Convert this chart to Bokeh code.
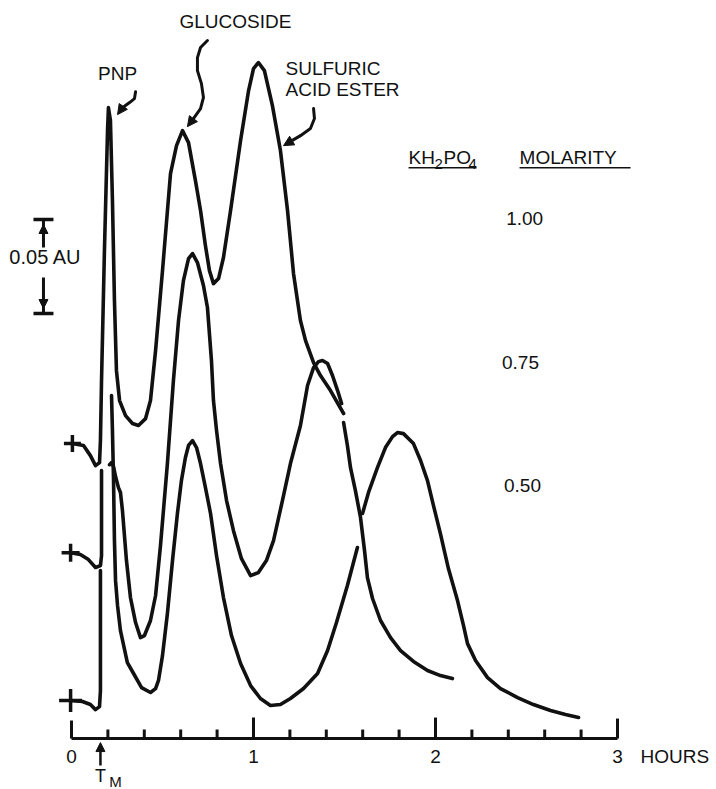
from bokeh.plotting import figure
from bokeh.models import Range1d, Arrow, NormalHead
from bokeh.core.properties import value
from bokeh.embed import file_html
from bokeh.resources import INLINE

FONT = "Liberation Sans"

# ---------------- data (x = hours, y = absorbance units above the time axis) -------------
molarity_labels = ["1.00", "0.75", "0.50"]
molarity_label_x = [2.49, 2.467, 2.478]
molarity_label_y = [0.2766, 0.2000, 0.1346]

tick_values = [0, 1, 2, 3]
tick_labels = ["0", "1", "2", "3"]
minor_ticks = [0.2, 0.4, 0.6, 0.8, 1.2, 1.4, 1.6, 1.8, 2.2, 2.4, 2.6, 2.8]
injection_time = 0.159  # T_M
scale_bar_au = 0.05
scale_bar_bottom = 0.2261
scale_bar_x = -0.154

# trace start marks (+)
start_x = [0.005, -0.005, -0.005]
start_y = [0.1569, 0.0989, 0.0202]

# 1.00 M trace
top_h = [0.005, 0.066, 0.104, 0.132, 0.154, 0.159, 0.165, 0.181, 0.198, 0.203, 0.214, 0.225,
         0.236, 0.247, 0.264, 0.297, 0.335, 0.368, 0.407, 0.434, 0.462, 0.500, 0.544, 0.577,
         0.610, 0.643, 0.681, 0.709, 0.736, 0.758, 0.780, 0.808, 0.835, 0.874, 0.929, 0.973,
         1.000, 1.027, 1.060, 1.104, 1.148, 1.187, 1.220, 1.258, 1.286, 1.330, 1.368, 1.423, 1.495]
top_au = [0.1569, 0.1559, 0.1505, 0.1452, 0.1468, 0.1585, 0.1904, 0.2596, 0.3234, 0.3356, 0.3287, 0.2862,
          0.2330, 0.1957, 0.1798, 0.1718, 0.1676, 0.1665, 0.1702, 0.1798, 0.2064, 0.2489, 0.3005, 0.3154,
          0.3234, 0.3170, 0.2968, 0.2809, 0.2622, 0.2489, 0.2420, 0.2447, 0.2559, 0.2809, 0.3181, 0.3447,
          0.3564, 0.3596, 0.3553, 0.3367, 0.3128, 0.2809, 0.2473, 0.2223, 0.2117, 0.2000, 0.1931, 0.1851, 0.1729]

# 0.75 M trace (three pen strokes)
mid1_h = [-0.005, 0.049, 0.093, 0.132, 0.159, 0.165, 0.165]
mid1_au = [0.0989, 0.0979, 0.0952, 0.0910, 0.0920, 0.0973, 0.1426]
mid2_h = [0.209, 0.220, 0.231, 0.242, 0.258, 0.269, 0.280, 0.302, 0.324, 0.352, 0.379, 0.401, 0.434,
          0.462, 0.489, 0.527, 0.560, 0.588, 0.615, 0.643, 0.665, 0.692, 0.725, 0.747, 0.769, 0.780,
          0.797, 0.819, 0.852, 0.890, 0.934, 0.984, 1.027, 1.071, 1.110, 1.159, 1.203, 1.258, 1.297,
          1.330, 1.357, 1.379, 1.407, 1.434, 1.462, 1.484]
mid2_au = [0.1457, 0.1468, 0.1447, 0.1394, 0.1335, 0.1309, 0.1213, 0.0947, 0.0750, 0.0617, 0.0537, 0.0548, 0.0628,
           0.0761, 0.1027, 0.1463, 0.1904, 0.2223, 0.2436, 0.2553, 0.2580, 0.2532, 0.2410, 0.2293, 0.2011, 0.1798,
           0.1638, 0.1463, 0.1266, 0.1106, 0.0957, 0.0867, 0.0883, 0.0947, 0.1053, 0.1266, 0.1463, 0.1665, 0.1878,
           0.1973, 0.2005, 0.2011, 0.1995, 0.1931, 0.1851, 0.1782]
mid3_h = [1.495, 1.516, 1.533, 1.560, 1.588, 1.610, 1.626, 1.654, 1.698, 1.753, 1.808, 1.879, 1.956, 2.027, 2.093]
mid3_au = [0.1681, 0.1559, 0.1441, 0.1319, 0.1176, 0.1000, 0.0856, 0.0745, 0.0628, 0.0537, 0.0468, 0.0410,
           0.0362, 0.0335, 0.0319]

# 0.50 M trace (three pen strokes)
low1_h = [-0.005, 0.060, 0.104, 0.132, 0.154, 0.159, 0.159]
low1_au = [0.0202, 0.0197, 0.0181, 0.0154, 0.0170, 0.0255, 0.0894]
low2_h = [0.220, 0.225, 0.231, 0.236, 0.242, 0.253, 0.269, 0.307, 0.341, 0.385, 0.434, 0.462, 0.478, 0.500,
          0.527, 0.555, 0.582, 0.604, 0.626, 0.643, 0.665, 0.687, 0.709, 0.736, 0.764, 0.797, 0.835, 0.879,
          0.929, 0.984, 1.038, 1.093, 1.148, 1.203, 1.275, 1.352, 1.407, 1.456, 1.516, 1.571]
low2_au = [0.1824, 0.1638, 0.1372, 0.1053, 0.0840, 0.0707, 0.0574, 0.0404, 0.0346, 0.0271, 0.0245, 0.0266, 0.0309, 0.0441,
           0.0665, 0.0947, 0.1197, 0.1372, 0.1495, 0.1559, 0.1585, 0.1548, 0.1463, 0.1335, 0.1197, 0.0973, 0.0750, 0.0548,
           0.0399, 0.0282, 0.0213, 0.0176, 0.0181, 0.0213, 0.0266, 0.0346, 0.0468, 0.0617, 0.0814, 0.1016]
low3_h = [1.599, 1.632, 1.681, 1.725, 1.764, 1.791, 1.824, 1.879, 1.918, 1.956, 1.989, 2.027, 2.071, 2.121,
          2.154, 2.176, 2.220, 2.286, 2.357, 2.451, 2.538, 2.632, 2.714, 2.786]
low3_au = [0.1197, 0.1309, 0.1441, 0.1548, 0.1606, 0.1628, 0.1622, 0.1569, 0.1479, 0.1372, 0.1239, 0.1090, 0.0904,
           0.0734, 0.0601, 0.0505, 0.0415, 0.0324, 0.0266, 0.0218, 0.0181, 0.0149, 0.0128, 0.0112]

# peak labels and their hand-drawn pointers
peak_labels = ["PNP", "GLUCOSIDE", "SULFURIC", "ACID ESTER"]
peak_label_x = [0.253, 0.901, 1.176, 1.176]
peak_label_y = [0.3537, 0.3814, 0.3564, 0.3452]
peak_label_align = ["center", "center", "left", "left"]
pnp_arrow_h = [0.352, 0.346, 0.319, 0.280, 0.253]
pnp_arrow_au = [0.3441, 0.3404, 0.3383, 0.3356, 0.3319]
glu_arrow_h = [0.747, 0.709, 0.692, 0.692, 0.714, 0.725, 0.709, 0.670, 0.637]
glu_arrow_au = [0.3713, 0.3676, 0.3622, 0.3553, 0.3484, 0.3410, 0.3351, 0.3298, 0.3255]
sul_arrow_h = [1.330, 1.335, 1.313, 1.258, 1.165]
sul_arrow_au = [0.3351, 0.3298, 0.3245, 0.3207, 0.3154]

header_y = 0.3090

# ---------------- figure ----------------
W, H = 716, 789
X0, X1 = -0.3901, 3.5440
Y0, Y1 = -0.0271, 0.3926
au_per_px = (Y1 - Y0) / H
h_per_px = (X1 - X0) / W

p = figure(width=W, height=H, x_range=Range1d(X0, X1), y_range=Range1d(Y0, Y1),
           x_axis_type=None, y_axis_type=None, toolbar_location=None,
           output_backend="svg", min_border=0, outline_line_color=None)
p.background_fill_color = "white"
p.border_fill_color = "white"

LW = 3.6
INK = "#111111"
FS = "19px"

segs_x = [top_h, mid1_h, mid2_h, mid3_h, low1_h, low2_h, low3_h]
segs_y = [top_au, mid1_au, mid2_au, mid3_au, low1_au, low2_au, low3_au]
p.multi_line(xs=segs_x, ys=segs_y, line_color=INK, line_width=LW,
             line_cap="round", line_join="round")

p.scatter(x=start_x, y=start_y, marker="cross", size=[17, 18, 23],
          line_color=INK, line_width=3.5)

# time axis (ruler)
p.segment(x0=[tick_values[0]], y0=[0], x1=[tick_values[-1]], y1=[0], line_color=INK, line_width=3)
major_len = [18 * au_per_px, 21 * au_per_px, 21 * au_per_px, 20 * au_per_px]
p.segment(x0=tick_values, y0=[0] * 4, x1=tick_values, y1=major_len, line_color=INK, line_width=3)
p.segment(x0=minor_ticks, y0=[0] * len(minor_ticks), x1=minor_ticks,
          y1=[9 * au_per_px] * len(minor_ticks), line_color=INK, line_width=3)
lab_y = -18 * au_per_px
p.text(x=tick_values, y=[lab_y] * 4, text=tick_labels, text_font=value(FONT),
       text_font_size=value(FS), text_align="center", text_baseline="middle", text_color=INK)
p.text(x=[tick_values[-1] + 0.127], y=[lab_y], text=["HOURS"], text_font=value(FONT),
       text_font_size=value(FS), text_align="left", text_baseline="middle", text_color=INK)

# T_M marker
p.add_layout(Arrow(end=NormalHead(size=9, fill_color=INK, line_color=INK, line_width=1),
                   x_start=injection_time, y_start=-27 * au_per_px,
                   x_end=injection_time, y_end=-4 * au_per_px, line_color=INK, line_width=2.5))
p.text(x=[injection_time], y=[-37 * au_per_px], text=["T"], text_font=value(FONT),
       text_font_size=value("18px"), text_align="center", text_baseline="middle", text_color=INK)
p.text(x=[injection_time + 15 * h_per_px], y=[-43 * au_per_px], text=["M"], text_font=value(FONT),
       text_font_size=value("15px"), text_align="center", text_baseline="middle", text_color=INK)

# scale bar
sb_top = scale_bar_bottom + scale_bar_au
half = 10 * h_per_px
p.segment(x0=[scale_bar_x - half, scale_bar_x - half], y0=[sb_top, scale_bar_bottom],
          x1=[scale_bar_x + half, scale_bar_x + half], y1=[sb_top, scale_bar_bottom],
          line_color=INK, line_width=3.5)
p.segment(x0=[scale_bar_x, scale_bar_x], y0=[sb_top, scale_bar_bottom],
          x1=[scale_bar_x, scale_bar_x], y1=[sb_top - 28 * au_per_px, scale_bar_bottom + 36 * au_per_px],
          line_color=INK, line_width=3)
p.add_layout(Arrow(end=NormalHead(size=9, fill_color=INK, line_color=INK),
                   x_start=scale_bar_x, y_start=sb_top - 14 * au_per_px,
                   x_end=scale_bar_x, y_end=sb_top - 5 * au_per_px, line_color=INK, line_width=3))
p.add_layout(Arrow(end=NormalHead(size=9, fill_color=INK, line_color=INK),
                   x_start=scale_bar_x, y_start=scale_bar_bottom + 14 * au_per_px,
                   x_end=scale_bar_x, y_end=scale_bar_bottom + 5 * au_per_px, line_color=INK, line_width=3))
p.text(x=[scale_bar_x + 2 * h_per_px], y=[scale_bar_bottom + 0.6 * scale_bar_au], text=["0.05 AU"],
       text_font=value(FONT), text_font_size=value("20px"), text_align="center",
       text_baseline="middle", text_color=INK)

# peak labels + pointers
p.text(x=peak_label_x, y=peak_label_y, text=peak_labels, text_font=value(FONT),
       text_font_size=value(FS), text_align=peak_label_align, text_baseline="middle", text_color=INK)
for ax_, ay_ in [(pnp_arrow_h, pnp_arrow_au), (glu_arrow_h, glu_arrow_au), (sul_arrow_h, sul_arrow_au)]:
    p.line(x=ax_[:-1], y=ay_[:-1], line_color=INK, line_width=3, line_cap="round", line_join="round")
    p.add_layout(Arrow(end=NormalHead(size=10, fill_color=INK, line_color=INK),
                       x_start=ax_[-2], y_start=ay_[-2], x_end=ax_[-1], y_end=ay_[-1],
                       line_color=INK, line_width=3))

# legend header: KH2PO4  MOLARITY (underlined)
hx = 1.852
p.text(x=[hx], y=[header_y], text=["KH"], text_font=value(FONT), text_font_size=value(FS),
       text_align="left", text_baseline="middle", text_color=INK)
p.text(x=[hx + 26 * h_per_px], y=[header_y - 6 * au_per_px], text=["2"], text_font=value(FONT),
       text_font_size=value("15px"), text_align="left", text_baseline="middle", text_color=INK)
p.text(x=[hx + 35 * h_per_px], y=[header_y], text=["PO"], text_font=value(FONT), text_font_size=value(FS),
       text_align="left", text_baseline="middle", text_color=INK)
p.text(x=[hx + 60 * h_per_px], y=[header_y - 6 * au_per_px], text=["4"], text_font=value(FONT),
       text_font_size=value("15px"), text_align="left", text_baseline="middle", text_color=INK)
p.text(x=[hx + 111 * h_per_px], y=[header_y], text=["MOLARITY"], text_font=value(FONT),
       text_font_size=value(FS), text_align="left", text_baseline="middle", text_color=INK)
ul_y = header_y - 10 * au_per_px
p.segment(x0=[hx, hx + 111 * h_per_px], y0=[ul_y, ul_y],
          x1=[hx + 68 * h_per_px, hx + 222 * h_per_px], y1=[ul_y, ul_y], line_color=INK, line_width=1.5)

p.text(x=molarity_label_x, y=molarity_label_y, text=molarity_labels, text_font=value(FONT),
       text_font_size=value(FS), text_align="center", text_baseline="middle", text_color=INK)

open("out.html", "w").write(file_html(p, INLINE))
